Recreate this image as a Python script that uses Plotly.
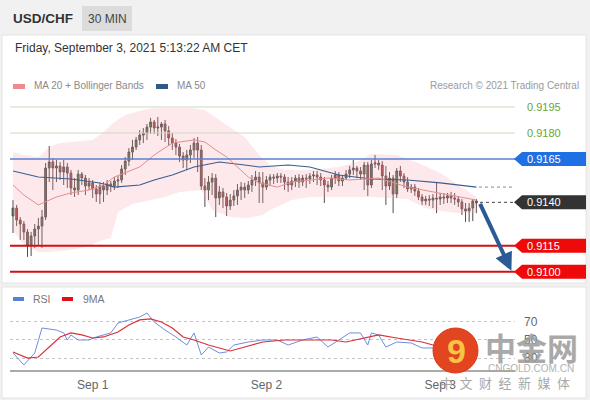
import plotly.graph_objects as go
import pandas as pd

# ---------------- data ----------------
start_time = "2021-08-31 13:00"

opens = [0.91321, 0.91367, 0.91298, 0.91275, 0.91229, 0.91148, 0.91206, 0.91246, 0.91263, 0.91315,
         0.91598, 0.91633, 0.91598, 0.91610, 0.91575, 0.91604, 0.91569, 0.91483, 0.91471, 0.91563,
         0.91540, 0.91494, 0.91512, 0.91477, 0.91448, 0.91494, 0.91471, 0.91506, 0.91494, 0.91523,
         0.91529, 0.91592, 0.91638, 0.91690, 0.91719, 0.91760, 0.91788, 0.91800, 0.91834, 0.91863,
         0.91829, 0.91834, 0.91852, 0.91812, 0.91771, 0.91742, 0.91719, 0.91667, 0.91644, 0.91673,
         0.91702, 0.91742, 0.91702, 0.91494, 0.91471, 0.91517, 0.91540, 0.91425, 0.91460, 0.91431,
         0.91379, 0.91413, 0.91437, 0.91471, 0.91488, 0.91471, 0.91500, 0.91529, 0.91546, 0.91512,
         0.91488, 0.91529, 0.91546, 0.91540, 0.91552, 0.91546, 0.91517, 0.91500, 0.91523, 0.91540,
         0.91517, 0.91540, 0.91535, 0.91552, 0.91558, 0.91546, 0.91529, 0.91500, 0.91488, 0.91540,
         0.91558, 0.91523, 0.91540, 0.91563, 0.91587, 0.91598, 0.91581, 0.91563, 0.91615, 0.91500,
         0.91621, 0.91627, 0.91615, 0.91552, 0.91494, 0.91540, 0.91448, 0.91581, 0.91552, 0.91517,
         0.91477, 0.91488, 0.91465, 0.91431, 0.91408, 0.91419, 0.91413, 0.91425, 0.91419, 0.91431,
         0.91425, 0.91437, 0.91425, 0.91419, 0.91402, 0.91362, 0.91350, 0.91367, 0.91408]

highs = [0.91413, 0.91385, 0.91315, 0.91292, 0.91246, 0.91229, 0.91275, 0.91310, 0.91356, 0.91627,
         0.91725, 0.91656, 0.91644, 0.91633, 0.91644, 0.91627, 0.91587, 0.91540, 0.91587, 0.91575,
         0.91558, 0.91540, 0.91529, 0.91500, 0.91512, 0.91517, 0.91529, 0.91523, 0.91546, 0.91552,
         0.91615, 0.91662, 0.91713, 0.91760, 0.91777, 0.91817, 0.91829, 0.91852, 0.91887, 0.91875,
         0.91892, 0.91863, 0.91875, 0.91840, 0.91800, 0.91765, 0.91737, 0.91690, 0.91702, 0.91731,
         0.91771, 0.91777, 0.91731, 0.91540, 0.91552, 0.91569, 0.91563, 0.91494, 0.91483, 0.91454,
         0.91448, 0.91471, 0.91506, 0.91517, 0.91512, 0.91523, 0.91558, 0.91581, 0.91575, 0.91575,
         0.91552, 0.91563, 0.91563, 0.91569, 0.91569, 0.91563, 0.91546, 0.91546, 0.91558, 0.91563,
         0.91558, 0.91563, 0.91569, 0.91581, 0.91581, 0.91569, 0.91546, 0.91523, 0.91558, 0.91581,
         0.91575, 0.91558, 0.91587, 0.91610, 0.91644, 0.91610, 0.91604, 0.91633, 0.91633, 0.91644,
         0.91673, 0.91644, 0.91638, 0.91610, 0.91575, 0.91558, 0.91598, 0.91610, 0.91569, 0.91546,
         0.91506, 0.91506, 0.91483, 0.91448, 0.91437, 0.91442, 0.91448, 0.91512, 0.91454, 0.91454,
         0.91454, 0.91460, 0.91454, 0.91437, 0.91419, 0.91396, 0.91396, 0.91419, 0.91419]

lows = [0.91223, 0.91263, 0.91183, 0.91183, 0.91085, 0.91090, 0.91137, 0.91148, 0.91137, 0.91298,
        0.91517, 0.91471, 0.91517, 0.91529, 0.91500, 0.91483, 0.91442, 0.91431, 0.91442, 0.91500,
        0.91442, 0.91471, 0.91425, 0.91402, 0.91390, 0.91402, 0.91442, 0.91460, 0.91471, 0.91483,
        0.91512, 0.91558, 0.91610, 0.91644, 0.91702, 0.91731, 0.91742, 0.91760, 0.91794, 0.91794,
        0.91783, 0.91760, 0.91748, 0.91725, 0.91702, 0.91673, 0.91633, 0.91598, 0.91587, 0.91627,
        0.91656, 0.91575, 0.91471, 0.91373, 0.91413, 0.91442, 0.91315, 0.91385, 0.91367, 0.91321,
        0.91356, 0.91379, 0.91385, 0.91413, 0.91425, 0.91448, 0.91460, 0.91494, 0.91396, 0.91396,
        0.91471, 0.91494, 0.91506, 0.91512, 0.91512, 0.91471, 0.91460, 0.91471, 0.91488, 0.91483,
        0.91494, 0.91483, 0.91506, 0.91517, 0.91500, 0.91494, 0.91396, 0.91460, 0.91471, 0.91506,
        0.91494, 0.91494, 0.91529, 0.91540, 0.91558, 0.91540, 0.91529, 0.91471, 0.91437, 0.91483,
        0.91598, 0.91587, 0.91471, 0.91385, 0.91471, 0.91338, 0.91425, 0.91517, 0.91483, 0.91460,
        0.91454, 0.91437, 0.91413, 0.91385, 0.91385, 0.91379, 0.91367, 0.91338, 0.91385, 0.91390,
        0.91396, 0.91396, 0.91385, 0.91373, 0.91327, 0.91287, 0.91287, 0.91292, 0.91338]

closes = [0.91367, 0.91298, 0.91275, 0.91229, 0.91148, 0.91206, 0.91246, 0.91263, 0.91315, 0.91598,
          0.91633, 0.91598, 0.91610, 0.91575, 0.91604, 0.91569, 0.91483, 0.91471, 0.91563, 0.91540,
          0.91494, 0.91512, 0.91477, 0.91448, 0.91494, 0.91471, 0.91506, 0.91494, 0.91523, 0.91529,
          0.91592, 0.91638, 0.91690, 0.91719, 0.91760, 0.91788, 0.91800, 0.91834, 0.91863, 0.91829,
          0.91834, 0.91852, 0.91812, 0.91771, 0.91742, 0.91719, 0.91667, 0.91644, 0.91673, 0.91702,
          0.91742, 0.91702, 0.91494, 0.91471, 0.91517, 0.91540, 0.91425, 0.91460, 0.91431, 0.91379,
          0.91413, 0.91437, 0.91471, 0.91488, 0.91471, 0.91500, 0.91529, 0.91546, 0.91512, 0.91488,
          0.91529, 0.91546, 0.91540, 0.91552, 0.91546, 0.91517, 0.91500, 0.91523, 0.91540, 0.91517,
          0.91540, 0.91535, 0.91552, 0.91558, 0.91546, 0.91529, 0.91500, 0.91488, 0.91540, 0.91558,
          0.91523, 0.91540, 0.91563, 0.91587, 0.91598, 0.91581, 0.91563, 0.91615, 0.91500, 0.91621,
          0.91627, 0.91615, 0.91552, 0.91494, 0.91540, 0.91448, 0.91581, 0.91552, 0.91517, 0.91477,
          0.91488, 0.91465, 0.91431, 0.91408, 0.91419, 0.91413, 0.91425, 0.91419, 0.91431, 0.91425,
          0.91437, 0.91425, 0.91419, 0.91402, 0.91362, 0.91350, 0.91367, 0.91408, 0.91396]

# Bollinger band edges (candle index, price)
upper_idx = [0, 3, 7, 10, 13, 16, 22, 25, 28, 31, 35, 37, 41, 49, 53, 56, 59, 64, 68, 71, 75, 82,
             90, 95, 99, 106, 112, 118, 123, 128]
upper_val = [0.91690, 0.91673, 0.91662, 0.91719, 0.91742, 0.91748, 0.91760, 0.91806, 0.91863, 0.91904,
             0.91927, 0.91939, 0.91944, 0.91944, 0.91933, 0.91892, 0.91846, 0.91777, 0.91673, 0.91615,
             0.91587, 0.91587, 0.91604, 0.91633, 0.91679, 0.91673, 0.91627, 0.91569, 0.91500, 0.91431]
lower_idx = [0, 3, 7, 10, 16, 21, 24, 27, 29, 33, 38, 42, 46, 52, 55, 60, 65, 69, 71, 77, 82, 90,
             99, 109, 114, 118, 123, 128]
lower_val = [0.91240, 0.91154, 0.91113, 0.91113, 0.91125, 0.91148, 0.91177, 0.91194, 0.91344, 0.91390,
             0.91413, 0.91431, 0.91460, 0.91471, 0.91356, 0.91315, 0.91310, 0.91327, 0.91356, 0.91413,
             0.91431, 0.91431, 0.91431, 0.91419, 0.91367, 0.91350, 0.91338, 0.91338]

ma20_idx = [0, 3, 7, 12, 16, 21, 25, 28, 35, 39, 44, 50, 53, 56, 59, 65, 68, 73, 77, 82, 87, 93,
            101, 109, 118, 128]
ma20_val = [0.91500, 0.91442, 0.91385, 0.91431, 0.91454, 0.91471, 0.91500, 0.91546, 0.91604, 0.91673,
            0.91742, 0.91760, 0.91748, 0.91702, 0.91662, 0.91546, 0.91512, 0.91488, 0.91517, 0.91529,
            0.91540, 0.91529, 0.91540, 0.91488, 0.91454, 0.91413]

ma50_idx = [0, 7, 16, 24, 28, 35, 39, 44, 50, 57, 64, 68, 76, 82, 90, 99, 109, 118, 128]
ma50_val = [0.91581, 0.91546, 0.91535, 0.91512, 0.91488, 0.91500, 0.91529, 0.91558, 0.91604, 0.91633,
            0.91615, 0.91604, 0.91615, 0.91604, 0.91558, 0.91535, 0.91529, 0.91512, 0.91488]

rsi_idx = [0, 3, 6, 8, 12, 14, 15, 16, 18, 21, 23, 27, 29, 32, 35, 37, 39, 42, 45, 48, 50, 52, 54,
           57, 59, 61, 65, 69, 73, 76, 80, 84, 87, 90, 93, 96, 98, 99, 101, 103, 106, 110, 113, 116,
           118, 121, 124, 128]
rsi_val = [35.8, 22.7, 35.8, 63.1, 60.9, 57.7, 50.0, 55.5, 50.0, 50.0, 53.3, 57.7, 68.6, 71.9, 75.1,
           79.5, 69.7, 60.9, 53.3, 44.5, 57.7, 33.6, 42.3, 35.8, 36.9, 44.5, 47.8, 50.0, 50.0, 44.5,
           50.0, 53.3, 42.3, 50.0, 57.7, 57.7, 44.5, 57.7, 55.5, 42.3, 47.8, 46.7, 41.3, 41.3, 36.9,
           33.6, 31.4, 35.8]
rsi_ma_idx = [0, 4, 7, 10, 13, 16, 19, 22, 25, 29, 32, 35, 38, 41, 44, 47, 50, 54, 60, 64, 69, 75,
              82, 88, 92, 98, 101, 106, 113, 116, 119, 124, 128]
rsi_ma_val = [36.9, 30.3, 31.4, 42.3, 53.3, 57.7, 55.5, 52.2, 53.3, 58.7, 66.4, 71.9, 73.0, 69.7, 63.1,
              53.3, 50.0, 44.5, 38.0, 42.3, 47.8, 50.0, 50.0, 50.0, 47.8, 53.3, 55.5, 52.2, 47.8, 44.5,
              41.3, 36.9, 36.9]

resistance_levels = [0.9195, 0.9180]
pivot_level = 0.9165
support_levels = [0.9115, 0.9100]
last_price_label = 0.9140
target_level = 0.9100

date_ticks = ["2021-09-01", "2021-09-02", "2021-09-03"]
date_tick_text = ["Sep 1", "Sep 2", "Sep 3"]

# ---------------- figure ----------------
W, H = 590, 400
def px(x):
    return x / W
def py(y):
    return 1 - y / H

dates = pd.date_range(start_time, periods=len(closes), freq="30min")
def at(idx):
    return [dates[i] for i in idx]

x_range = ["2021-08-31 12:35", "2021-09-03 10:20"]
y_range = [0.909519, 0.920192]
FONT = "Liberation Sans, Arial, sans-serif"

fig = go.Figure()

# bollinger band fill
band_x = at(upper_idx) + at(lower_idx)[::-1]
band_y = upper_val + lower_val[::-1]
fig.add_trace(go.Scatter(x=band_x, y=band_y, fill="toself", fillcolor="rgba(245,165,172,0.24)",
                         line=dict(width=0), mode="lines", hoverinfo="skip", showlegend=False,
                         xaxis="x", yaxis="y"))
fig.add_trace(go.Scatter(x=at(ma50_idx), y=ma50_val, mode="lines", line=dict(color="#3b5d8f", width=1.1),
                         showlegend=False, xaxis="x", yaxis="y"))
fig.add_trace(go.Scatter(x=at(ma20_idx), y=ma20_val, mode="lines", line=dict(color="#e58c8c", width=1),
                         showlegend=False, xaxis="x", yaxis="y"))

fig.add_trace(go.Candlestick(
    x=dates, open=opens, high=highs, low=lows, close=closes,
    increasing=dict(fillcolor="#4d7a3c", line=dict(color="#4a4a4a", width=1)),
    decreasing=dict(fillcolor="#d23a3a", line=dict(color="#5a4a4a", width=1)),
    showlegend=False, xaxis="x", yaxis="y"))

# RSI panel
fig.add_trace(go.Scatter(x=at(rsi_idx), y=rsi_val, mode="lines", line=dict(color="#6f8fdc", width=1),
                         showlegend=False, xaxis="x2", yaxis="y2"))
fig.add_trace(go.Scatter(x=at(rsi_ma_idx), y=rsi_ma_val, mode="lines", line=dict(color="#d9303a", width=1.2),
                         showlegend=False, xaxis="x2", yaxis="y2"))

shapes = []
annotations = []

# panels
shapes.append(dict(type="rect", xref="paper", yref="paper", x0=px(2), x1=px(586), y0=py(283), y1=py(35),
                   fillcolor="white", line=dict(color="#e4e4e4", width=1), layer="below"))
shapes.append(dict(type="rect", xref="paper", yref="paper", x0=px(2), x1=px(586), y0=py(398), y1=py(287),
                   fillcolor="white", line=dict(color="#e4e4e4", width=1), layer="below"))
# header tag box
shapes.append(dict(type="rect", xref="paper", yref="paper", x0=px(82), x1=px(132), y0=py(31), y1=py(6),
                   fillcolor="#dcdcdc", line=dict(width=0), layer="below"))

# level lines
for lv in resistance_levels:
    shapes.append(dict(type="line", xref="x domain", yref="y", x0=0, x1=1, y0=lv, y1=lv,
                       line=dict(color="#cfdcbc", width=1.2)))
shapes.append(dict(type="line", xref="x domain", yref="y", x0=0, x1=1, y0=pivot_level, y1=pivot_level,
                   line=dict(color="#5b80cf", width=1.4)))
for lv in support_levels:
    shapes.append(dict(type="line", xref="x domain", yref="y", x0=0, x1=1, y0=lv, y1=lv,
                       line=dict(color="#d40f0f", width=2)))

# dotted continuation lines
shapes.append(dict(type="line", xref="paper", yref="y", x0=px(480), x1=px(517),
                   y0=last_price_label, y1=last_price_label, line=dict(color="#444", width=1, dash="dot")))
shapes.append(dict(type="line", xref="paper", yref="y", x0=px(479), x1=px(515),
                   y0=ma50_val[-1], y1=ma50_val[-1], line=dict(color="#888", width=1, dash="dot")))

# label boxes
half = 7 * (y_range[1] - y_range[0]) / 185
def tag(level, color):
    path = (f"M {px(514)},{level} L {px(522)},{level + half} L {px(586)},{level + half} "
            f"L {px(586)},{level - half} L {px(522)},{level - half} Z")
    shapes.append(dict(type="path", xref="paper", yref="y", path=path, fillcolor=color,
                       line=dict(width=0)))
    annotations.append(dict(xref="paper", yref="y", x=px(525), y=level, text=f"{level:.4f}",
                            showarrow=False, xanchor="left", yanchor="middle",
                            font=dict(family=FONT, size=11, color="white")))

tag(pivot_level, "#1f6fe5")
tag(last_price_label, "#333333")
for lv in support_levels:
    tag(lv, "#ee0a0a")
for lv in resistance_levels:
    annotations.append(dict(xref="paper", yref="y", x=px(525), y=lv, text=f"{lv:.4f}",
                            showarrow=False, xanchor="left", yanchor="middle",
                            font=dict(family=FONT, size=11, color="#6aa532")))

# forecast arrow
annotations.append(dict(x=pd.Timestamp("2021-09-03 09:50"), y=target_level + 0.00005, xref="x", yref="y",
                        ax=pd.Timestamp("2021-09-03 05:25"), ay=last_price_label, axref="x", ayref="y",
                        showarrow=True, arrowhead=2, arrowsize=0.9, arrowwidth=4, arrowcolor="#2b5b94",
                        text=""))

# header texts
annotations.append(dict(xref="paper", yref="paper", x=px(11), y=py(19), text="<b>USD/CHF</b>",
                        showarrow=False, xanchor="left", yanchor="middle",
                        font=dict(family=FONT, size=13.5, color="#333")))
annotations.append(dict(xref="paper", yref="paper", x=px(107), y=py(19), text="30 MIN",
                        showarrow=False, xanchor="center", yanchor="middle",
                        font=dict(family=FONT, size=12, color="#444")))
annotations.append(dict(xref="paper", yref="paper", x=px(13), y=py(48),
                        text="Friday, September 3, 2021 5:13:22 AM CET",
                        showarrow=False, xanchor="left", yanchor="middle",
                        font=dict(family=FONT, size=12, color="#333")))

# legends
shapes.append(dict(type="rect", xref="paper", yref="paper", x0=px(13), x1=px(25), y0=py(89), y1=py(84),
                   fillcolor="#ef8a90", line=dict(width=0)))
annotations.append(dict(xref="paper", yref="paper", x=px(32), y=py(86), text="MA 20 + Bollinger Bands",
                        showarrow=False, xanchor="left", yanchor="middle",
                        font=dict(family=FONT, size=10, color="#8a8a8a")))
shapes.append(dict(type="rect", xref="paper", yref="paper", x0=px(156), x1=px(168), y0=py(89), y1=py(84),
                   fillcolor="#2f5a86", line=dict(width=0)))
annotations.append(dict(xref="paper", yref="paper", x=px(175), y=py(86), text="MA 50",
                        showarrow=False, xanchor="left", yanchor="middle",
                        font=dict(family=FONT, size=10, color="#8a8a8a")))
annotations.append(dict(xref="paper", yref="paper", x=px(581), y=py(86),
                        text="Research © 2021 Trading Central",
                        showarrow=False, xanchor="right", yanchor="middle",
                        font=dict(family=FONT, size=10, color="#9a9a9a")))

shapes.append(dict(type="rect", xref="paper", yref="paper", x0=px(13), x1=px(24), y0=py(301), y1=py(297),
                   fillcolor="#5b7fd6", line=dict(width=0)))
annotations.append(dict(xref="paper", yref="paper", x=px(31), y=py(299), text="RSI",
                        showarrow=False, xanchor="left", yanchor="middle",
                        font=dict(family=FONT, size=10.5, color="#777")))
shapes.append(dict(type="rect", xref="paper", yref="paper", x0=px(62), x1=px(73), y0=py(301), y1=py(297),
                   fillcolor="#e0101a", line=dict(width=0)))
annotations.append(dict(xref="paper", yref="paper", x=px(81), y=py(299), text="9MA",
                        showarrow=False, xanchor="left", yanchor="middle",
                        font=dict(family=FONT, size=10.5, color="#777")))

# watermark
shapes.append(dict(type="circle", xref="paper", yref="paper", x0=px(433), x1=px(478), y0=py(373), y1=py(328),
                   fillcolor="#e2451f", line=dict(color="#d83a18", width=1)))
annotations.append(dict(xref="paper", yref="paper", x=px(456), y=py(351), text="<b>9</b>",
                        showarrow=False, xanchor="center", yanchor="middle",
                        font=dict(family=FONT, size=34, color="#f7c443")))
annotations.append(dict(xref="paper", yref="paper", x=px(531), y=py(346), text="<b>中金网</b>",
                        showarrow=False, xanchor="center", yanchor="middle", opacity=0.85,
                        font=dict(family="Noto Sans CJK SC", size=31, color="#9b9b9b")))
annotations.append(dict(xref="paper", yref="paper", x=px(531), y=py(368), text="CNGOLD.COM.CN",
                        showarrow=False, xanchor="center", yanchor="middle", opacity=0.85,
                        font=dict(family=FONT, size=10, color="#a5a5a5")))
annotations.append(dict(xref="paper", yref="paper", x=px(505), y=py(382),
                        text="中\u2002文\u2002财\u2002经\u2002新\u2002媒\u2002体",
                        showarrow=False, xanchor="center", yanchor="middle", opacity=0.85,
                        font=dict(family="Noto Sans CJK SC", size=13, color="#9a9a9a")))

fig.update_layout(
    width=W, height=H, margin=dict(l=0, r=0, t=0, b=0),
    paper_bgcolor="#f1f1f1", plot_bgcolor="rgba(0,0,0,0)",
    showlegend=False, hovermode=False,
    font=dict(family=FONT),
    xaxis=dict(domain=[px(10), px(515)], range=x_range, visible=False, anchor="y",
               rangeslider=dict(visible=False), type="date"),
    yaxis=dict(domain=[py(280), py(95)], range=y_range, visible=False, anchor="x"),
    xaxis2=dict(domain=[px(10), px(515)], range=x_range, anchor="y2", type="date",
                showline=True, linecolor="#aaaaaa", linewidth=2, showgrid=False, zeroline=False,
                tickvals=date_ticks, ticktext=date_tick_text, ticks="", ticklabelstandoff=3,
                tickfont=dict(family=FONT, size=12, color="#666")),
    yaxis2=dict(domain=[py(370), py(305)], range=[17.2, 88.25], anchor="x2", side="right",
                tickvals=[30, 50, 70], showgrid=True, gridcolor="#c4c4c4", griddash="dot", gridwidth=1,
                zeroline=False, showline=False, ticks="", ticklabelstandoff=8,
                tickfont=dict(family=FONT, size=12, color="#666")),
    shapes=shapes, annotations=annotations,
)

fig.write_html("out.html", config={"displayModeBar": False},
               post_script="document.body.style.margin='0px';document.body.style.overflow='hidden';")
